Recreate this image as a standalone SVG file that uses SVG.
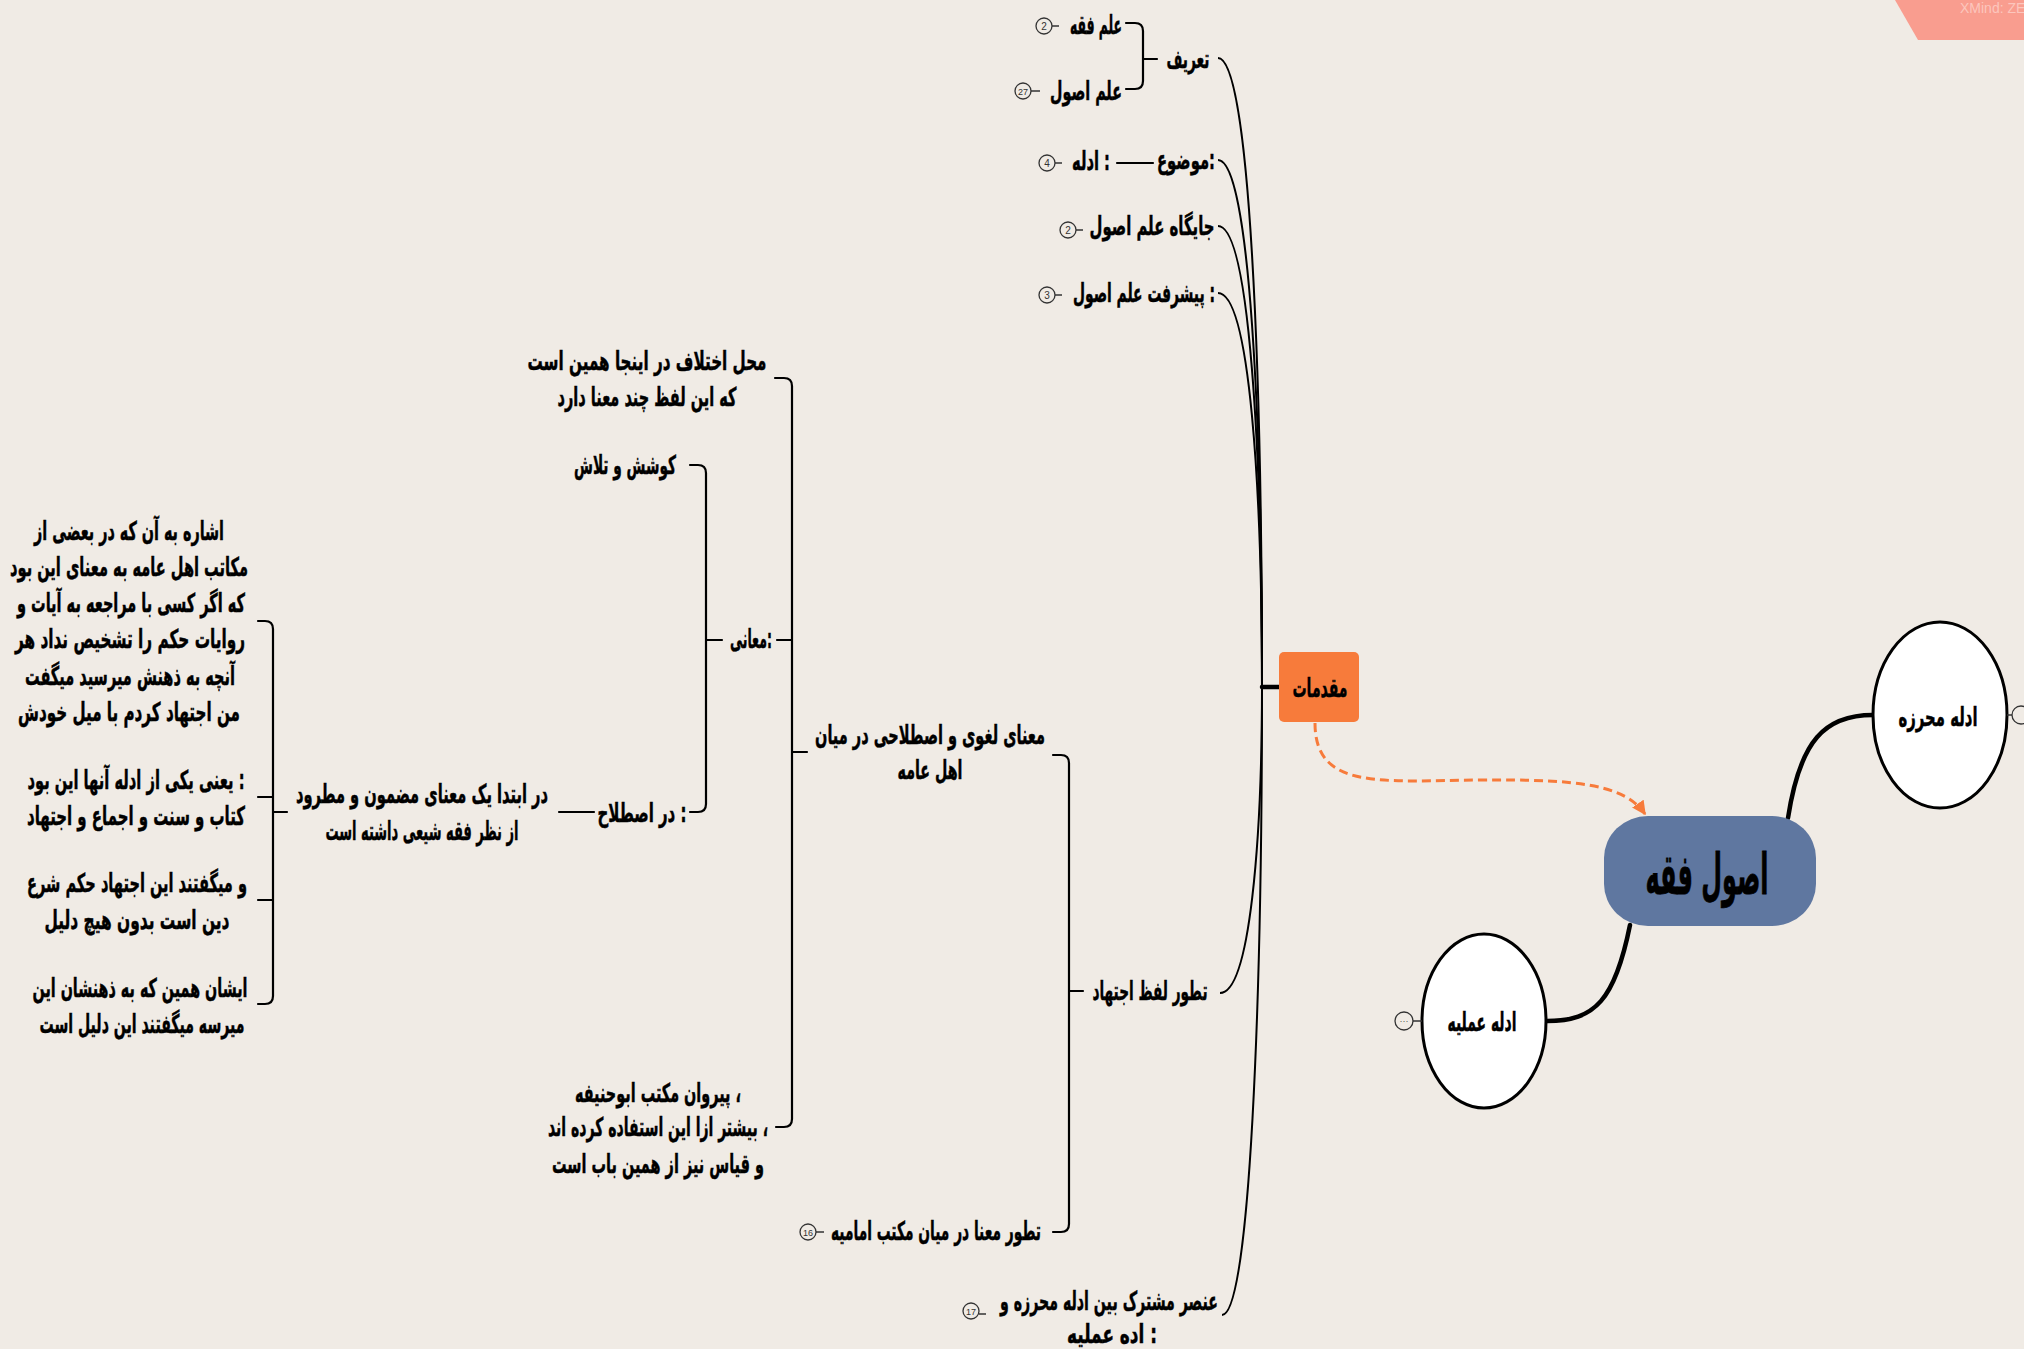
<svg xmlns="http://www.w3.org/2000/svg" width="2024" height="1349" viewBox="0 0 2024 1349">
<defs>
<style>
.t{font-family:"DejaVu Sans","Noto Sans",sans-serif;font-weight:bold;font-size:26px;fill:#000;stroke:#000;stroke-width:0.5;text-anchor:middle}
.big{font-size:56px;stroke-width:0.8}
.mid{font-size:26px}
.ln{fill:none;stroke:#000;stroke-width:2.2;stroke-linecap:round;stroke-linejoin:round}
.cv{fill:none;stroke:#000;stroke-width:2}
.thick{fill:none;stroke:#000;stroke-width:4.5;stroke-linecap:round}
.bd circle{fill:none;stroke:#333;stroke-width:1.3}
.bd line{stroke:#333;stroke-width:1.5}
.bd text{font-family:"Liberation Sans",sans-serif;font-size:10px;fill:#333;text-anchor:middle}
.bd text.s{font-size:9px}
.ell{fill:#fff;stroke:#000;stroke-width:3}
.col circle{fill:#F0EBE5;stroke:#333;stroke-width:1.3}
</style>
<marker id="arr" viewBox="0 0 10 10" refX="9" refY="5" markerWidth="14" markerHeight="14" markerUnits="userSpaceOnUse" orient="auto">
<path d="M0,0 L10,5 L0,10 z" fill="#F77B3B"/>
</marker>
</defs>
<rect width="2024" height="1349" fill="#F0EBE5"/>
<g id="watermark">
<polygon points="1895,0 2024,0 2024,40 1918,40" fill="#F99D8F"/>
<text x="1960" y="13" font-family="Liberation Sans,sans-serif" font-size="14" fill="#FCC6BD">XMind: ZE</text>
</g>

<g id="connectors">
<line class="thick" x1="1262" y1="687" x2="1279" y2="687"/>
<path class="cv" d="M1262,687 C1262,372 1250,58 1218,58"/>
<path class="cv" d="M1262,687 C1262,423 1250,160 1218,160"/>
<path class="cv" d="M1262,687 C1262,456 1250,226 1218,226"/>
<path class="cv" d="M1262,687 C1262,490 1250,293 1218,293"/>
<path class="cv" d="M1262,687 C1262,840 1250,993 1220,993"/>
<path class="cv" d="M1262,687 C1262,1000 1250,1315 1222,1315"/>
<path class="thick" d="M1788,818 C1800,740 1825,715 1873,715"/>
<path class="thick" d="M1630,925 C1615,1000 1595,1021 1547,1021"/>
<path d="M1315,723 C1315,790 1380,781 1480,780 C1580,779 1625,785 1645,814" fill="none" stroke="#F77B3B" stroke-width="3" stroke-dasharray="9,5" marker-end="url(#arr)"/>
<path class="ln" d="M1126,23 H1135 Q1143,23 1143,31 V81 Q1143,89 1135,89 H1126 M1143,59 H1157"/>
<line class="ln" x1="1117" y1="163" x2="1153" y2="163"/>
<path class="ln" d="M1053,755 H1061 Q1069,755 1069,763 V1224 Q1069,1232 1061,1232 H1053 M1069,991 H1083"/>
<path class="ln" d="M775,378 H784 Q792,378 792,386 V1119 Q792,1127 784,1127 H776 M777,640 H792 M792,752 H807"/>
<path class="ln" d="M690,465 H698 Q706,465 706,473 V804 Q706,812 698,812 H690 M706,640 H722"/>
<line class="ln" x1="559" y1="812" x2="594" y2="812"/>
<path class="ln" d="M258,621 H265 Q273,621 273,629 V996 Q273,1004 265,1004 H258 M258,797 H273 M258,900 H273 M273,812 H287"/>
</g>

<g id="node-osul-feqh">
<rect x="1604" y="816" width="212" height="110" rx="44" ry="42" fill="#5F77A0"/>
<text class="t big" x="1707" y="894" textLength="123" lengthAdjust="spacingAndGlyphs">اصول فقه</text>
</g>
<g id="node-adelle-mohrazeh">
<ellipse class="ell" cx="1940" cy="715" rx="67" ry="93"/>
<text class="t mid" x="1938" y="726" textLength="79" lengthAdjust="spacingAndGlyphs">ادله محرزه</text>
<g class="col"><line x1="2007" y1="715" x2="2012" y2="715" stroke="#333" stroke-width="1.5"/><circle cx="2021" cy="715" r="9"/></g>
</g>
<g id="node-adelle-amaliyeh">
<ellipse class="ell" cx="1484" cy="1021" rx="62" ry="87"/>
<text class="t mid" x="1482" y="1031" textLength="69" lengthAdjust="spacingAndGlyphs">ادله عملیه</text>
<g class="col"><line x1="1413" y1="1021" x2="1422" y2="1021" stroke="#333" stroke-width="1.5"/><circle cx="1404" cy="1021" r="9"/><text x="1404" y="1024" font-family="Liberation Sans,sans-serif" font-size="9" fill="#555" text-anchor="middle">···</text></g>
</g>
<g id="node-moghadamat">
<rect x="1279" y="652" width="80" height="70" rx="5" fill="#F77B3B"/>
<text class="t" x="1320" y="697" textLength="55" lengthAdjust="spacingAndGlyphs">مقدمات</text>
</g>

<g id="node-tarif">
<text class="t" x="1188" y="68" textLength="43" lengthAdjust="spacingAndGlyphs">تعریف</text>
</g>
<g id="node-elm-feqh">
<text class="t" x="1096" y="34" textLength="52" lengthAdjust="spacingAndGlyphs">علم فقه</text>
<g class="bd"><circle cx="1044" cy="26" r="8"/><line x1="1052" y1="26" x2="1059" y2="26"/><text x="1044" y="30">2</text></g>
</g>
<g id="node-elm-osul">
<text class="t" x="1086" y="100" textLength="72" lengthAdjust="spacingAndGlyphs">علم اصول</text>
<g class="bd"><circle cx="1023" cy="91" r="8"/><line x1="1031" y1="91" x2="1040" y2="91"/><text class="s" x="1023" y="95">27</text></g>
</g>
<g id="node-mozu">
<text class="t" x="1186" y="169" textLength="58" lengthAdjust="spacingAndGlyphs">موضوع:</text>
</g>
<g id="node-adelle">
<text class="t" x="1091" y="170" textLength="38" lengthAdjust="spacingAndGlyphs">ادله :</text>
<g class="bd"><circle cx="1047" cy="163" r="8"/><line x1="1055" y1="163" x2="1062" y2="163"/><text x="1047" y="167">4</text></g>
</g>
<g id="node-jaygah">
<text class="t" x="1152" y="235" textLength="125" lengthAdjust="spacingAndGlyphs">جایگاه علم اصول</text>
<g class="bd"><circle cx="1068" cy="230" r="8"/><line x1="1076" y1="230" x2="1083" y2="230"/><text x="1068" y="234">2</text></g>
</g>
<g id="node-pishraft">
<text class="t" x="1144" y="302" textLength="142" lengthAdjust="spacingAndGlyphs">پیشرفت علم اصول :</text>
<g class="bd"><circle cx="1047" cy="295" r="8"/><line x1="1055" y1="295" x2="1062" y2="295"/><text x="1047" y="299">3</text></g>
</g>
<g id="node-tatavor-lafz">
<text class="t" x="1150" y="1000" textLength="115" lengthAdjust="spacingAndGlyphs">تطور لفظ اجتهاد</text>
</g>
<g id="node-onsor">
<text class="t" x="1109" y="1310" textLength="218" lengthAdjust="spacingAndGlyphs">عنصر مشترک بین ادله محرزه و</text>
<text class="t" x="1112" y="1343" textLength="90" lengthAdjust="spacingAndGlyphs">اده عملیه :</text>
<g class="bd"><circle cx="971" cy="1311" r="8"/><line x1="979" y1="1314" x2="986" y2="1314"/><text class="s" x="971" y="1315">17</text></g>
</g>
<g id="node-manaye-loghavi">
<text class="t" x="930" y="744" textLength="230" lengthAdjust="spacingAndGlyphs">معنای لغوی و اصطلاحی در میان</text>
<text class="t" x="930" y="779" textLength="65" lengthAdjust="spacingAndGlyphs">اهل عامه</text>
</g>
<g id="node-tatavor-mana">
<text class="t" x="936" y="1240" textLength="210" lengthAdjust="spacingAndGlyphs">تطور معنا در میان مکتب امامیه</text>
<g class="bd"><circle cx="808" cy="1232" r="8"/><line x1="816" y1="1232" x2="824" y2="1232"/><text class="s" x="808" y="1236">16</text></g>
</g>
<g id="node-mahal-ekhtelaf">
<text class="t" x="647" y="370" textLength="239" lengthAdjust="spacingAndGlyphs">محل اختلاف در اینجا همین است</text>
<text class="t" x="647" y="406" textLength="179" lengthAdjust="spacingAndGlyphs">که این لفظ چند معنا دارد</text>
</g>
<g id="node-maani">
<text class="t" x="751" y="648" textLength="42" lengthAdjust="spacingAndGlyphs">معانی:</text>
</g>
<g id="node-kushesh">
<text class="t" x="625" y="474" textLength="102" lengthAdjust="spacingAndGlyphs">کوشش و تلاش</text>
</g>
<g id="node-dar-estelah">
<text class="t" x="642" y="822" textLength="89" lengthAdjust="spacingAndGlyphs">در اصطلاح :</text>
</g>
<g id="node-dar-ebteda">
<text class="t" x="422" y="803" textLength="252" lengthAdjust="spacingAndGlyphs">در ابتدا یک معنای مضمون و مطرود</text>
<text class="t" x="422" y="840" textLength="193" lengthAdjust="spacingAndGlyphs">از نظر فقه شیعی داشته است</text>
</g>
<g id="node-pirovan">
<text class="t" x="658" y="1102" textLength="166" lengthAdjust="spacingAndGlyphs">پیروان مکتب ابوحنیفه ،</text>
<text class="t" x="658" y="1136" textLength="220" lengthAdjust="spacingAndGlyphs">بیشتر ازا این استفاده کرده اند ،</text>
<text class="t" x="658" y="1173" textLength="212" lengthAdjust="spacingAndGlyphs">و قیاس نیز از همین باب  است</text>
</g>
<g id="node-eshareh">
<text class="t" x="129" y="540" textLength="190" lengthAdjust="spacingAndGlyphs">اشاره به آن که در بعضی از</text>
<text class="t" x="129" y="576" textLength="238" lengthAdjust="spacingAndGlyphs">مکاتب اهل عامه به معنای این بود</text>
<text class="t" x="131" y="612" textLength="228" lengthAdjust="spacingAndGlyphs">که اگر کسی با مراجعه به  آیات و</text>
<text class="t" x="130" y="648" textLength="230" lengthAdjust="spacingAndGlyphs">روایات حکم را  تشخیص نداد هر</text>
<text class="t" x="130" y="685" textLength="210" lengthAdjust="spacingAndGlyphs">آنچه به ذهنش میرسید میگفت</text>
<text class="t" x="129" y="721" textLength="222" lengthAdjust="spacingAndGlyphs">من اجتهاد کردم با میل خودش</text>
</g>
<g id="node-yani">
<text class="t" x="136" y="789" textLength="217" lengthAdjust="spacingAndGlyphs">یعنی یکی از ادله آنها این بود :</text>
<text class="t" x="136" y="825" textLength="218" lengthAdjust="spacingAndGlyphs">کتاب و سنت و اجماع و اجتهاد</text>
</g>
<g id="node-migoftand">
<text class="t" x="137" y="892" textLength="220" lengthAdjust="spacingAndGlyphs">و میگفتند این اجتهاد حکم شرع</text>
<text class="t" x="137" y="929" textLength="185" lengthAdjust="spacingAndGlyphs">دین است بدون هیچ دلیل</text>
</g>
<g id="node-ishan">
<text class="t" x="140" y="997" textLength="215" lengthAdjust="spacingAndGlyphs">ایشان همین که به ذهنشان این</text>
<text class="t" x="142" y="1033" textLength="205" lengthAdjust="spacingAndGlyphs">میرسه میگفتند این دلیل است</text>
</g>
</svg>
